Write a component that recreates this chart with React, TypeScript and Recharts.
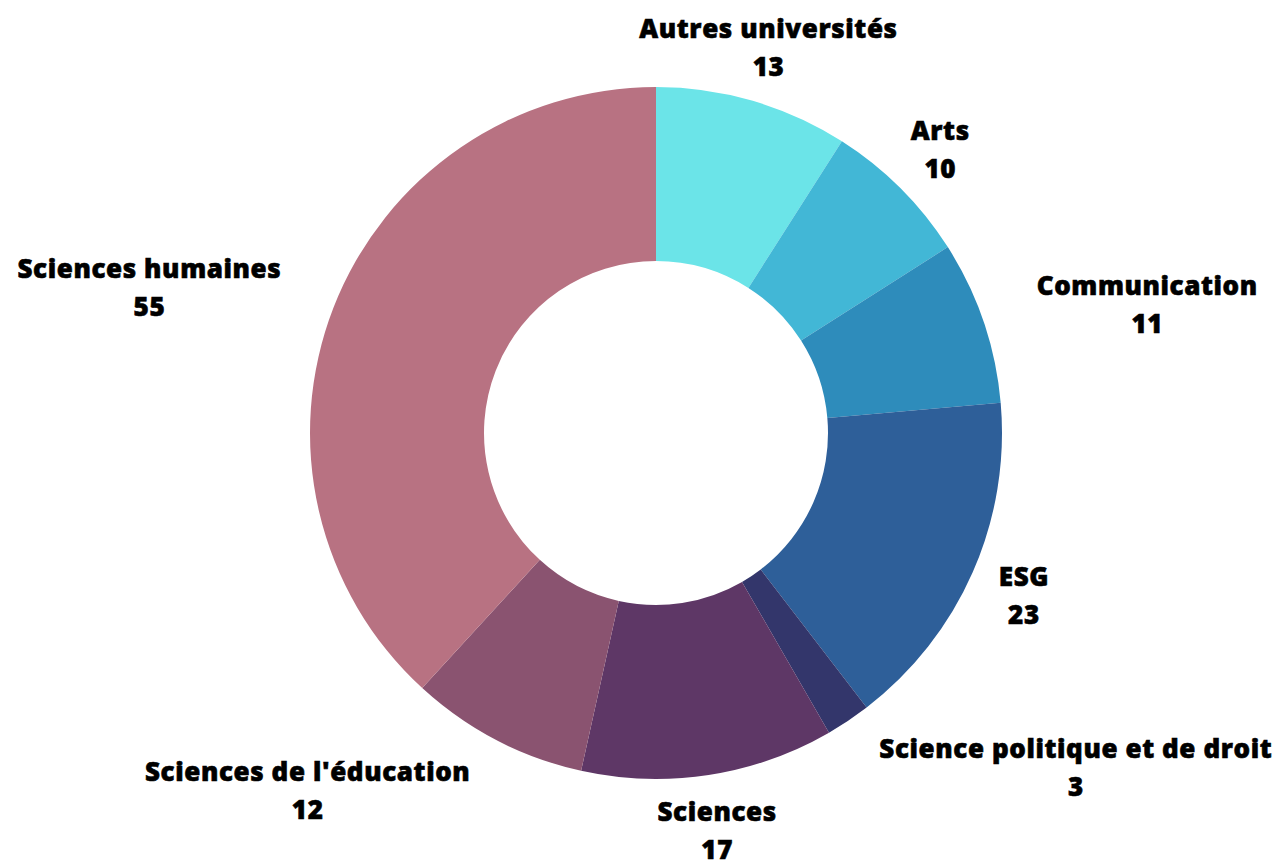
import React from "react";
import { PieChart, Pie, Cell } from "recharts";

const categories = [
  "Autres universités",
  "Arts",
  "Communication",
  "ESG",
  "Science politique et de droit",
  "Sciences",
  "Sciences de l'éducation",
  "Sciences humaines",
];
const values = [13, 10, 11, 23, 3, 17, 12, 55];
const colors = [
  "#6BE4E8",
  "#42B7D6",
  "#2E8CBB",
  "#2E5F99",
  "#33366B",
  "#5E3766",
  "#8A5370",
  "#B87282",
];

const data = categories.map((name, i) => ({ name, value: values[i] }));

const FONT = "'Open Sans', sans-serif";
const FONT_SIZE = 26;
const LETTER_SPACING = 0.6;
const LINE_GAP = 19;
const LABEL_OFFSET = 56;
const RAD = Math.PI / 180;

let measureCtx: CanvasRenderingContext2D | null = null;
function textWidth(t: string): number {
  if (!measureCtx) {
    const c = document.createElement("canvas");
    measureCtx = c.getContext("2d");
  }
  if (!measureCtx) return t.length * 14;
  measureCtx.font = `800 ${FONT_SIZE}px 'Open Sans'`;
  return measureCtx.measureText(t).width + t.length * LETTER_SPACING;
}

const renderLabel = (props: any) => {
  const { cx, cy, midAngle, outerRadius, name, value } = props;
  const r = outerRadius + LABEL_OFFSET;
  const x = cx + r * Math.cos(-midAngle * RAD);
  const y = cy + r * Math.sin(-midAngle * RAD);
  const nameW = textWidth(String(name));
  const w = Math.max(nameW, textWidth(String(value)));
  const left = x - w / 2;
  const right = x + w / 2;
  const top = y - LINE_GAP - FONT_SIZE / 2;
  const bottom = y + LINE_GAP + FONT_SIZE / 2;
  const px = Math.max(left, Math.min(cx, right));
  const py = Math.max(top, Math.min(cy, bottom));
  const overlaps = Math.hypot(px - cx, py - cy) < outerRadius;
  let centerX = x;
  if (overlaps) {
    centerX = x > cx ? x + w / 2 : x - w / 2;
  }
  const common = {
    x: centerX,
    textAnchor: "middle" as const,
    dominantBaseline: "central" as const,
    fontFamily: FONT,
    fontWeight: 800,
    fontSize: FONT_SIZE,
    fill: "#000",
    stroke: "#000",
    strokeWidth: 0.6,
    style: { letterSpacing: `${LETTER_SPACING}px` },
  };
  return (
    <g>
      <text {...common} y={y - LINE_GAP}>
        {name}
      </text>
      <text {...common} y={y + LINE_GAP}>
        {value}
      </text>
    </g>
  );
};

export default function App() {
  return (
    <div style={{ position: "absolute", left: 0, top: 0, width: 1281, height: 863, background: "#fff" }}>
      <PieChart width={1281} height={863} margin={{ top: 0, right: 0, bottom: 0, left: 0 }}>
        <Pie
          data={data}
          dataKey="value"
          nameKey="name"
          cx={656}
          cy={433}
          innerRadius={172}
          outerRadius={346}
          startAngle={90}
          endAngle={-270}
          stroke="none"
          label={renderLabel}
          labelLine={false}
          isAnimationActive={false}
        >
          {data.map((d, i) => (
            <Cell key={d.name} fill={colors[i]} />
          ))}
        </Pie>
      </PieChart>
    </div>
  );
}
